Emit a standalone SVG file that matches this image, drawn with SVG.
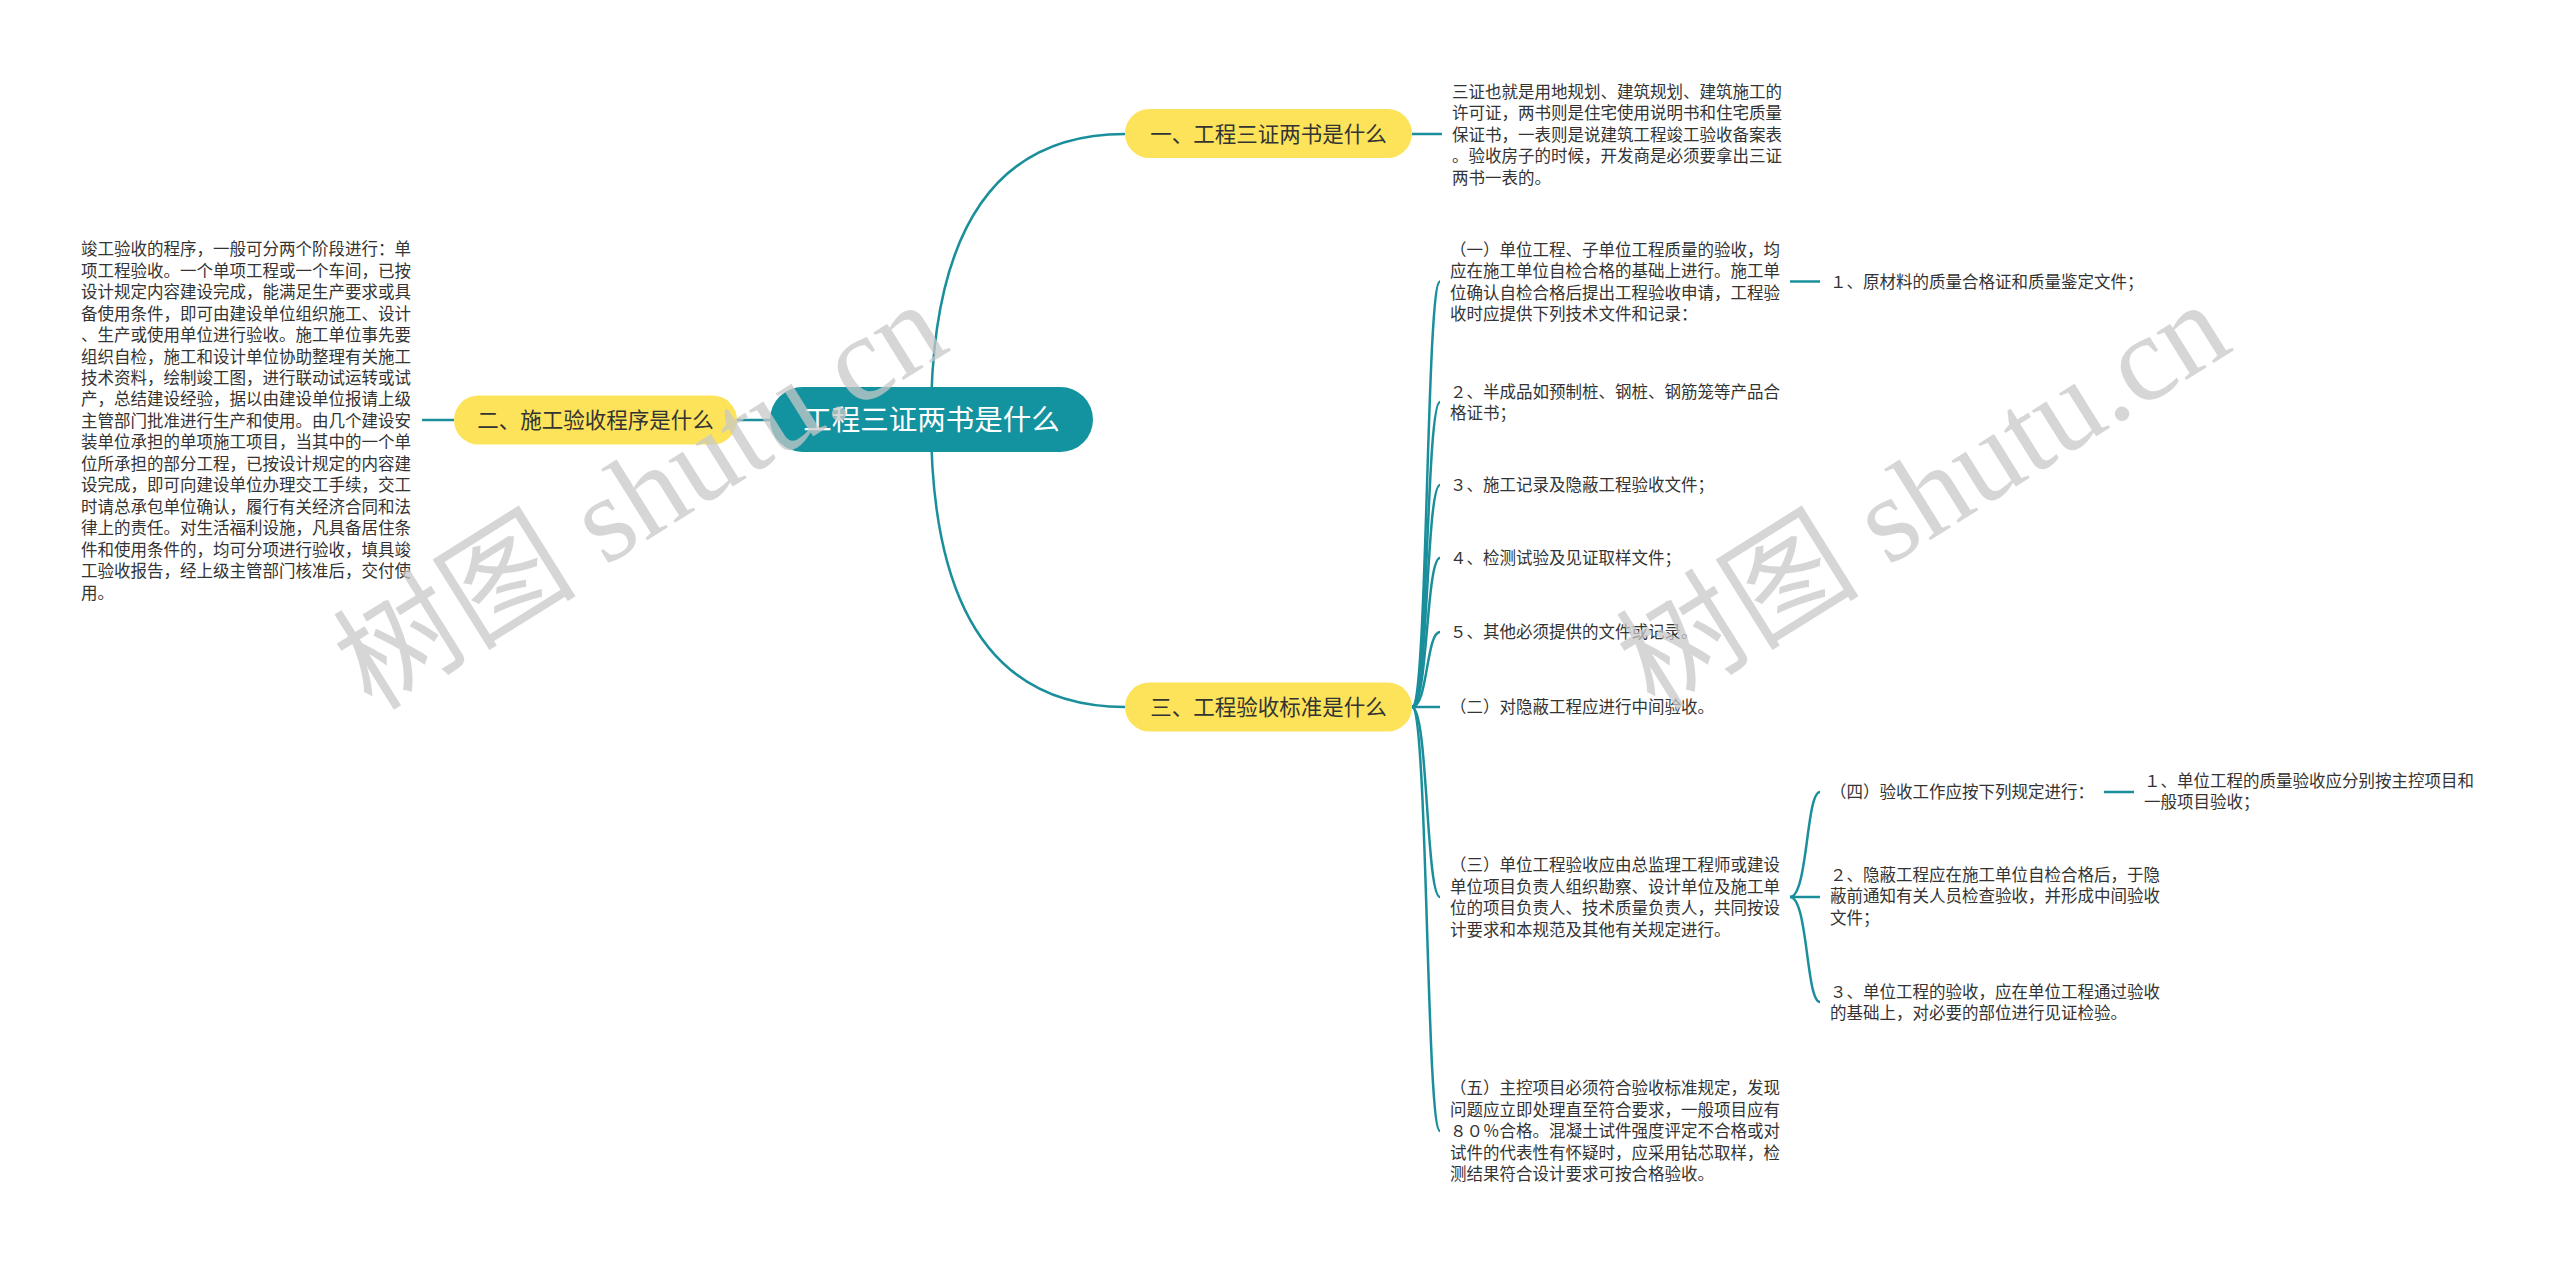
<svg xmlns="http://www.w3.org/2000/svg" width="2560" height="1263" viewBox="0 0 2560 1263">
<style>
.bg{fill:#ffffff}
.t{font-family:"Noto Sans CJK SC","Noto Sans",sans-serif;font-size:16.5px;fill:#333333}
.n{font-family:"Noto Sans CJK SC","Noto Sans",sans-serif;font-size:21.5px;fill:#333333;text-anchor:middle}
.c{font-family:"Noto Sans CJK SC","Noto Sans",sans-serif;font-size:28.5px;fill:#ffffff;text-anchor:middle}
.yl{fill:#fce35a}
.tl{fill:#13939f}
.lk{fill:none;stroke:#1a8f9b;stroke-width:2.5}
.wm{font-family:"Liberation Serif","Noto Sans CJK SC",serif;font-size:122px;fill:#c8c8c8;fill-opacity:0.75}
</style>
<rect class="bg" x="0" y="0" width="2560" height="1263"/>

<g id="connectors">
<path class="lk" d="M931 420 Q931 134 1125 134"/>
<path class="lk" d="M931 420 Q931 707 1125 707"/>
<path class="lk" d="M737 420 L770 420"/>
<path class="lk" d="M454 420 L422 420"/>
<path class="lk" d="M1412 134 L1442 134"/>
<path class="lk" d="M1412 707 C1428 707 1426 281.5 1440 281.5"/>
<path class="lk" d="M1412 707 C1428 707 1426 402 1440 402"/>
<path class="lk" d="M1412 707 C1428 707 1426 485 1440 485"/>
<path class="lk" d="M1412 707 C1428 707 1426 558 1440 558"/>
<path class="lk" d="M1412 707 C1428 707 1426 632 1440 632"/>
<path class="lk" d="M1412 707 L1440 707"/>
<path class="lk" d="M1412 707 C1428 707 1426 897 1440 897"/>
<path class="lk" d="M1412 707 C1428 707 1426 1131 1440 1131"/>
<path class="lk" d="M1790 281.5 L1820 281.5"/>
<path class="lk" d="M1790 897 C1808 897 1806 792 1820 792"/>
<path class="lk" d="M1790 897 L1820 897"/>
<path class="lk" d="M1790 897 C1808 897 1806 1002 1820 1002"/>
<path class="lk" d="M2104 792 L2134 792"/>
</g>

<g id="root">
<rect class="tl" x="770" y="387" width="323" height="65" rx="32.5"/>
<text class="c" x="931.5" y="430.3">工程三证两书是什么</text>
</g>

<g id="n1">
<rect class="yl" x="1125" y="109" width="287" height="49" rx="24.5"/>
<text class="n" x="1268.5" y="141.7">一、工程三证两书是什么</text>
</g>

<g id="n2">
<rect class="yl" x="454" y="395.5" width="283" height="49" rx="24.5"/>
<text class="n" x="595.5" y="428.2">二、施工验收程序是什么</text>
</g>

<g id="n3">
<rect class="yl" x="1125" y="682.5" width="287" height="49" rx="24.5"/>
<text class="n" x="1268.5" y="715.2">三、工程验收标准是什么</text>
</g>

<g id="n2-desc">
<text class="t" y="255.3">
<tspan x="81">竣工验收的程序，一般可分两个阶段进行：单</tspan>
<tspan x="81" dy="21.45">项工程验收。一个单项工程或一个车间，已按</tspan>
<tspan x="81" dy="21.45">设计规定内容建设完成，能满足生产要求或具</tspan>
<tspan x="81" dy="21.45">备使用条件，即可由建设单位组织施工、设计</tspan>
<tspan x="81" dy="21.45">、生产或使用单位进行验收。施工单位事先要</tspan>
<tspan x="81" dy="21.45">组织自检，施工和设计单位协助整理有关施工</tspan>
<tspan x="81" dy="21.45">技术资料，绘制竣工图，进行联动试运转或试</tspan>
<tspan x="81" dy="21.45">产，总结建设经验，据以由建设单位报请上级</tspan>
<tspan x="81" dy="21.45">主管部门批准进行生产和使用。由几个建设安</tspan>
<tspan x="81" dy="21.45">装单位承担的单项施工项目，当其中的一个单</tspan>
<tspan x="81" dy="21.45">位所承担的部分工程，已按设计规定的内容建</tspan>
<tspan x="81" dy="21.45">设完成，即可向建设单位办理交工手续，交工</tspan>
<tspan x="81" dy="21.45">时请总承包单位确认，履行有关经济合同和法</tspan>
<tspan x="81" dy="21.45">律上的责任。对生活福利设施，凡具备居住条</tspan>
<tspan x="81" dy="21.45">件和使用条件的，均可分项进行验收，填具竣</tspan>
<tspan x="81" dy="21.45">工验收报告，经上级主管部门核准后，交付使</tspan>
<tspan x="81" dy="21.45">用。</tspan>
</text>
</g>

<g id="n1-desc">
<text class="t" y="98">
<tspan x="1452">三证也就是用地规划、建筑规划、建筑施工的</tspan>
<tspan x="1452" dy="21.4">许可证，两书则是住宅使用说明书和住宅质量</tspan>
<tspan x="1452" dy="21.4">保证书，一表则是说建筑工程竣工验收备案表</tspan>
<tspan x="1452" dy="21.4">。验收房子的时候，开发商是必须要拿出三证</tspan>
<tspan x="1452" dy="21.4">两书一表的。</tspan>
</text>
</g>

<g id="n3-1">
<text class="t" y="255.6">
<tspan x="1450">（一）单位工程、子单位工程质量的验收，均</tspan>
<tspan x="1450" dy="21.5">应在施工单位自检合格的基础上进行。施工单</tspan>
<tspan x="1450" dy="21.5">位确认自检合格后提出工程验收申请，工程验</tspan>
<tspan x="1450" dy="21.5">收时应提供下列技术文件和记录：</tspan>
</text>
</g>

<g id="n3-1-1">
<text class="t" x="1830" y="287.8">１、原材料的质量合格证和质量鉴定文件；</text>
</g>

<g id="n3-2">
<text class="t" y="397.6">
<tspan x="1450">２、半成品如预制桩、钢桩、钢筋笼等产品合</tspan>
<tspan x="1450" dy="21.5">格证书；</tspan>
</text>
</g>

<g id="n3-3">
<text class="t" x="1450" y="491.3">３、施工记录及隐蔽工程验收文件；</text>
</g>

<g id="n3-4">
<text class="t" x="1450" y="564.3">４、检测试验及见证取样文件；</text>
</g>

<g id="n3-5">
<text class="t" x="1450" y="638.3">５、其他必须提供的文件或记录。</text>
</g>

<g id="n3-6">
<text class="t" x="1450" y="713.3">（二）对隐蔽工程应进行中间验收。</text>
</g>

<g id="n3-7">
<text class="t" y="871.1">
<tspan x="1450">（三）单位工程验收应由总监理工程师或建设</tspan>
<tspan x="1450" dy="21.5">单位项目负责人组织勘察、设计单位及施工单</tspan>
<tspan x="1450" dy="21.5">位的项目负责人、技术质量负责人，共同按设</tspan>
<tspan x="1450" dy="21.5">计要求和本规范及其他有关规定进行。</tspan>
</text>
</g>

<g id="n3-7-1">
<text class="t" x="1830" y="798.3">（四）验收工作应按下列规定进行：</text>
</g>

<g id="n3-7-1-1">
<text class="t" y="786.6">
<tspan x="2144">１、单位工程的质量验收应分别按主控项目和</tspan>
<tspan x="2144" dy="21.5">一般项目验收；</tspan>
</text>
</g>

<g id="n3-7-2">
<text class="t" y="880.8">
<tspan x="1830">２、隐蔽工程应在施工单位自检合格后，于隐</tspan>
<tspan x="1830" dy="21.5">蔽前通知有关人员检查验收，并形成中间验收</tspan>
<tspan x="1830" dy="21.5">文件；</tspan>
</text>
</g>

<g id="n3-7-3">
<text class="t" y="997.6">
<tspan x="1830">３、单位工程的验收，应在单位工程通过验收</tspan>
<tspan x="1830" dy="21.5">的基础上，对必要的部位进行见证检验。</tspan>
</text>
</g>

<g id="n3-8">
<text class="t" y="1094.3">
<tspan x="1450">（五）主控项目必须符合验收标准规定，发现</tspan>
<tspan x="1450" dy="21.5">问题应立即处理直至符合要求，一般项目应有</tspan>
<tspan x="1450" dy="21.5">８０％合格。混凝土试件强度评定不合格或对</tspan>
<tspan x="1450" dy="21.5">试件的代表性有怀疑时，应采用钻芯取样，检</tspan>
<tspan x="1450" dy="21.5">测结果符合设计要求可按合格验收。</tspan>
</text>
</g>

<g id="watermarks">
<text class="wm" transform="translate(372 712) rotate(-32)">树图 shutu.cn</text>
<text class="wm" transform="translate(1655 712) rotate(-32)">树图 shutu.cn</text>
</g>
</svg>
